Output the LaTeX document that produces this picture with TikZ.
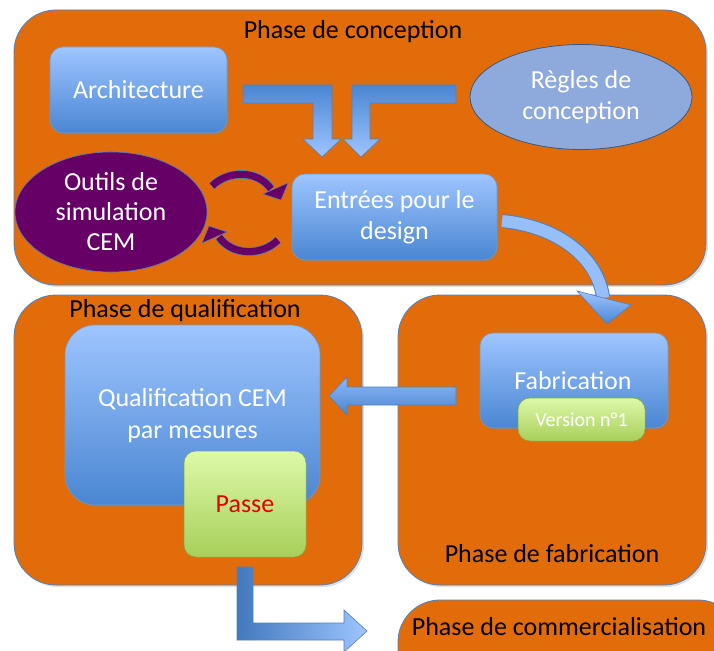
\documentclass[tikz,border=0pt]{standalone}
\usepackage{fontspec}
\setmainfont{Carlito}
\usetikzlibrary{shapes.geometric,shadows}
\definecolor{orng}{HTML}{E36C0A}
\definecolor{bordblue}{HTML}{4F81BD}
\definecolor{bluetop}{HTML}{9EC5FF}
\definecolor{bluebot}{HTML}{4A86D2}
\definecolor{greentop}{HTML}{DDF9A8}
\definecolor{greenbot}{HTML}{A8CF5A}
\definecolor{purp}{HTML}{660066}
\definecolor{regles}{HTML}{8EA9DB}
\begin{document}
\begin{tikzpicture}[x=1pt,y=-1pt,
  phase/.style={draw=bordblue,line width=0.8pt,fill=orng,rounded corners=42pt,
    drop shadow={opacity=0.25,shadow xshift=2pt,shadow yshift=-2pt}},
  ttl/.style={font=\fontsize{26}{31}\selectfont,text=black},
  bluebox/.style={draw=bordblue!80,line width=0.6pt,top color=bluetop,bottom color=bluebot,
    rounded corners=13pt,text=white,font=\fontsize{26}{31}\selectfont,align=center,
    drop shadow={opacity=0.3,shadow xshift=2pt,shadow yshift=-2pt}},
  greenbox/.style={draw=greenbot!80!black,line width=0.5pt,top color=greentop,bottom color=greenbot,
    rounded corners=12pt,align=center},
  blockarrow/.style={draw=bordblue,line width=0.6pt},
]
\useasboundingbox (0,0) rectangle (714,650);
\clip (0,0) rectangle (714,650);
\fill[white] (0,0) rectangle (714,650);

% phase boxes
\path[phase] (14,10) rectangle (706,285);
\path[phase] (14,295) rectangle (362,585);
\path[phase] (398,295) rectangle (706,585);
\path[phase] (398,600) rectangle (740,700);

\node[ttl] (tconc) at (353,32) {Phase de conception};
\node[ttl] (tqual) at (185,311) {Phase de qualification};
\node[ttl] (tfab) at (552,554) {Phase de fabrication};
\node[ttl] (tcom) at (559,627) {Phase de commercialisation};

% conception
\node[bluebox,minimum width=177pt,minimum height=86pt] (arch) at (138.5,90) {Architecture};
\node[ellipse,draw=bordblue!70!black,line width=0.8pt,fill=regles,minimum width=222pt,minimum height=105pt,
  text=white,font=\fontsize{26}{31}\selectfont,align=center] (regl) at (581,97) {Règles de\\conception};
\node[ellipse,draw=bordblue,line width=0.6pt,fill=purp,minimum width=192pt,minimum height=104pt,
  text=white,font=\fontsize{26}{30}\selectfont,align=center] (outils) at (111,212) {Outils de\\simulation\\CEM};
\node[bluebox,minimum width=205pt,minimum height=86pt] (entr) at (394.5,217) {Entrées pour le\\design};

% T arrows
\path[blockarrow,top color=bluebot,bottom color=bluetop]
  (243,85) -- (332,85) -- (332,139) -- (341,139) -- (322,157) -- (303,139) -- (313,139) -- (313,103) -- (243,103) -- cycle;
\path[blockarrow,top color=bluebot,bottom color=bluetop]
  (456,85) -- (352,85) -- (352,139) -- (343,139) -- (361,157) -- (380,139) -- (370,139) -- (370,103) -- (456,103) -- cycle;

% purple loop arrows
\draw[bordblue,line width=8.5pt] (212,186) .. controls (228,170) and (258,170) .. (271,189);
\draw[purp,line width=7pt] (212,186) .. controls (228,170) and (258,170) .. (271,189);
\fill[purp,draw=bordblue,line width=0.5pt] (263,194) -- (288,183) -- (281,200) -- cycle;
\draw[bordblue,line width=8.5pt] (278,240) .. controls (262,256) and (232,256) .. (219,237);
\draw[purp,line width=7pt] (278,240) .. controls (262,256) and (232,256) .. (219,237);
\fill[purp,draw=bordblue,line width=0.5pt] (227,232) -- (202,243) -- (209,226) -- cycle;

% big curved arrow
\draw[bordblue,line width=14pt] (502,221) .. controls (555,226) and (597,255) .. (603,297);
\draw[bluetop!90!bluebot,line width=12pt] (502,221) .. controls (555,226) and (597,255) .. (603.2,298);
\path[blockarrow,top color=bluetop,bottom color=bluebot] (577,291) -- (631,305) -- (607,324) -- cycle;

% fabrication
\node[bluebox,minimum width=188pt,minimum height=95pt] (fab) at (574,380.5) {};
\node[text=white,font=\fontsize{26}{31}\selectfont] (fabt) at (573,381) {Fabrication};
\node[greenbox,minimum width=127pt,minimum height=43pt,text=white,font=\fontsize{20}{24}\selectfont] (vers) at (581.5,419.5) {Version n°1};

% qualification
\node[bluebox,minimum width=255pt,minimum height=180pt,rounded corners=30pt] (qual) at (192.5,415) {};
\node[text=white,font=\fontsize{26}{32}\selectfont,align=center] (qualt) at (192.5,416) {Qualification CEM\\par mesures};
\node[greenbox,minimum width=122pt,minimum height=106pt,text={rgb,255:red,230;green,0;blue,0},font=\fontsize{26}{31}\selectfont] (passe) at (245,504) {Passe};

% fabrication -> qualification
\path[blockarrow,top color=bluetop!80!bluebot,bottom color=bluebot]
  (456,387) -- (347,387) -- (347,377) -- (329,396) -- (347,415) -- (347,405) -- (456,405) -- cycle;

% passe -> commercialisation
\path[blockarrow,left color=bluebot!90!black,right color=bluetop]
  (237,567) -- (253,567) -- (253,623) -- (344,623) -- (344,610) -- (367,631) -- (344,652) -- (344,640) -- (237,640) -- cycle;
\end{tikzpicture}
\end{document}
